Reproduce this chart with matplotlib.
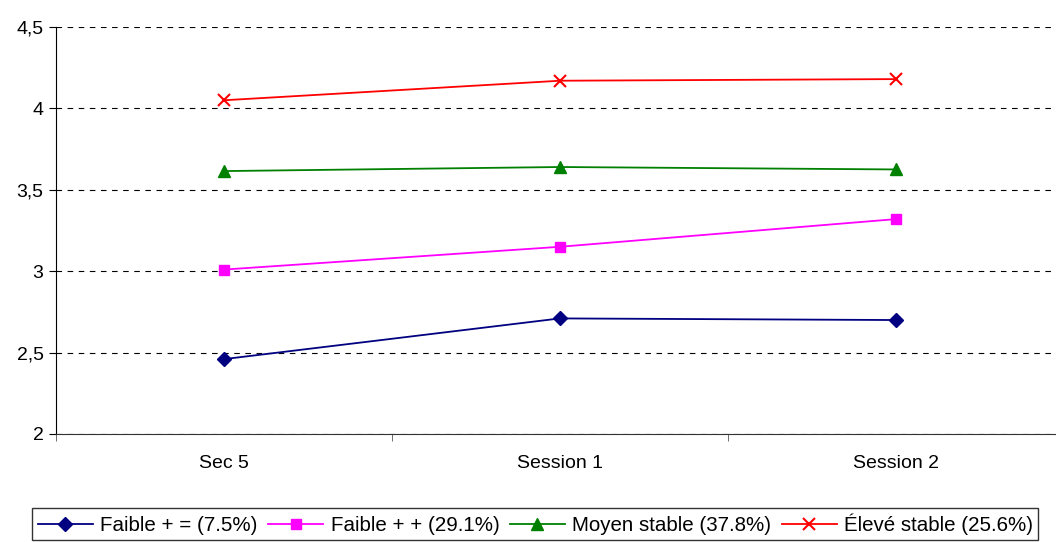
import matplotlib
matplotlib.use('Agg')
import matplotlib.pyplot as plt
import numpy as np
from matplotlib.ticker import FixedLocator, FuncFormatter

plt.rcParams['font.family'] = ['Liberation Sans', 'DejaVu Sans']

sessions = ["Sec 5", "Session 1", "Session 2"]
faible_egal = [2.46, 2.71, 2.70]
faible_plus = [3.01, 3.15, 3.32]
moyen_stable = [3.615, 3.64, 3.625]
eleve_stable = [4.05, 4.17, 4.18]

fig = plt.figure(figsize=(10.56, 5.42), dpi=100)
# plot area runs a little past the right edge of the picture, as in the source
ax = fig.add_axes([56 / 1056, 1 - 434 / 542, 1008 / 1056, (434 - 27) / 542])

x = np.arange(len(sessions))
series = [
    (faible_egal, "Faible + = (7.5%)", "#000080", "D", 7),
    (faible_plus, "Faible + + (29.1%)", "#FF00FF", "s", 7),
    (moyen_stable, "Moyen stable (37.8%)", "#008000", "^", 8),
    (eleve_stable, "Élevé stable (25.6%)", "#FF0000", "x", 8),
]
for values, label, color, marker, size in series:
    ax.plot(x, values, color=color, linewidth=1.3, marker=marker,
            markersize=size, markeredgewidth=1.5 if marker == "x" else 1,
            label=label, clip_on=False)

ax.set_xlim(-0.5, 2.5)
ax.set_ylim(2, 4.5)
ax.set_yticks(np.arange(2, 4.51, 0.5))
ax.yaxis.set_major_formatter(FuncFormatter(lambda v, p: f"{v:g}".replace(".", ",")))
ax.set_xticks(x)
ax.set_xticklabels(sessions)
ax.xaxis.set_minor_locator(FixedLocator([-0.5, 0.5, 1.5, 2.5]))
ax.tick_params(axis="x", which="major", length=0, pad=15, labelsize=14)
ax.tick_params(axis="x", which="minor", length=5, direction="out", color="#555555")
ax.tick_params(axis="y", length=5, direction="out", labelsize=14, pad=4)

ax.grid(axis="y", color="black", linestyle=(0, (5, 5)), linewidth=0.8)
ax.set_axisbelow(True)
for side in ["top", "right"]:
    ax.spines[side].set_visible(False)
ax.spines["left"].set_color("black")
ax.spines["bottom"].set_color("#333333")

leg = fig.legend(loc="lower center", bbox_to_anchor=(0.507, 0.0), ncol=4,
                 fontsize=14.8, frameon=True, fancybox=False, edgecolor="black",
                 handlelength=2.7, handletextpad=0.35, columnspacing=0.5,
                 borderpad=0.25, borderaxespad=0.1)
leg.get_frame().set_linewidth(1.0)

fig.savefig("out.png", dpi=100)
